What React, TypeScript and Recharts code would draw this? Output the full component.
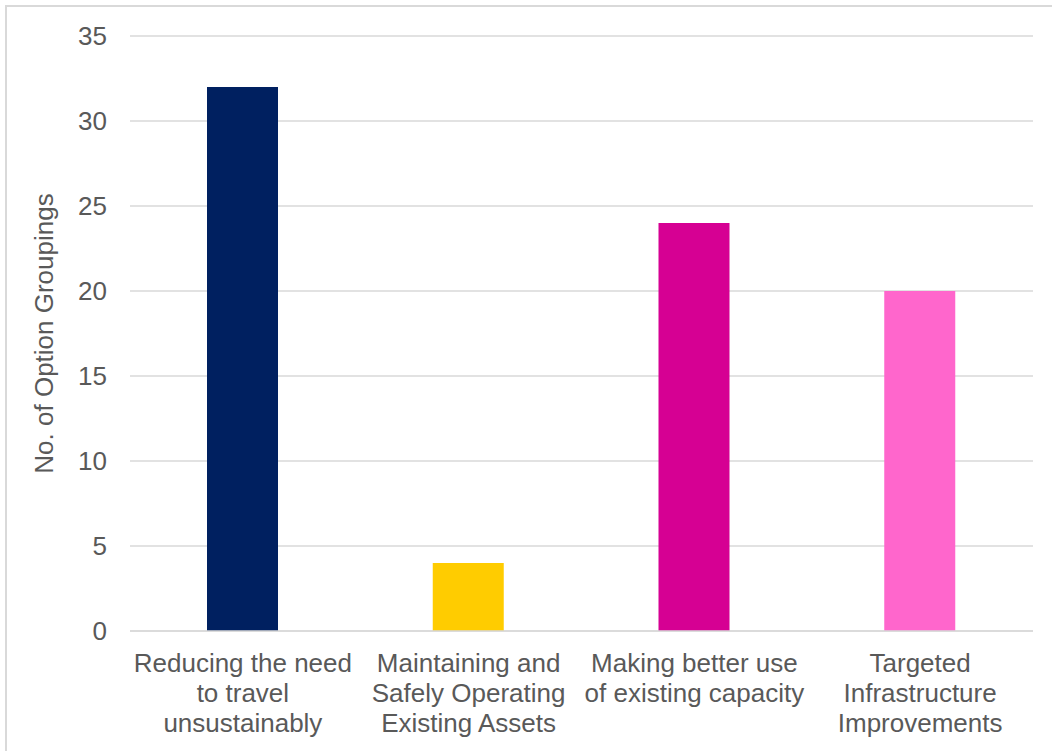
import React from 'react'
import { BarChart, Bar, XAxis, YAxis, CartesianGrid, Cell } from 'recharts'

const categories = [
  'Reducing the need\nto travel\nunsustainably',
  'Maintaining and\nSafely Operating\nExisting Assets',
  'Making better use\nof existing capacity',
  'Targeted\nInfrastructure\nImprovements',
]
const optionGroupings = [32, 4, 24, 20]
const barColors = ['#002060', '#FFCC00', '#D60093', '#FF66CC']
const yTicks = [0, 5, 10, 15, 20, 25, 30, 35]

const data = categories.map((name, i) => ({ name, value: optionGroupings[i] }))

const FONT = '"Liberation Sans", Arial, sans-serif'
const TEXT = '#595959'
const GRID = '#d9d9d9'

function CategoryTick(props: any) {
  const { x, y, payload } = props
  const lines = String(payload.value).split('\n')
  return (
    <g>
      {lines.map((line, i) => (
        <text
          key={i}
          x={x}
          y={y + 41 + i * 30}
          textAnchor="middle"
          fill={TEXT}
          fontSize={26}
          fontFamily={FONT}
        >
          {line}
        </text>
      ))}
    </g>
  )
}

export default function App() {
  return (
    <div
      style={{
        position: 'absolute',
        left: 0,
        top: 0,
        width: 1052,
        height: 751,
        overflow: 'hidden',
        background: '#fff',
      }}
    >
      <div
        style={{
          position: 'absolute',
          left: 5,
          top: 5,
          width: 1060,
          height: 760,
          border: `2px solid ${GRID}`,
        }}
      />
      <div style={{ position: 'absolute', left: 0, top: 0 }}>
        <BarChart
          width={1052}
          height={751}
          data={data}
          margin={{ top: 36, right: 19, bottom: 0, left: 0 }}
        >
          <CartesianGrid vertical={false} stroke={GRID} strokeWidth={1.4} />
          <XAxis
            dataKey="name"
            height={120}
            tickLine={false}
            tickSize={0}
            tickMargin={0}
            axisLine={{ stroke: GRID, strokeWidth: 1.4 }}
            tick={<CategoryTick />}
            interval={0}
          />
          <YAxis
            width={130}
            domain={[0, 35]}
            ticks={yTicks}
            axisLine={false}
            tickLine={false}
            tickSize={0}
            tickMargin={23}
            tick={{ fill: TEXT, fontSize: 26, fontFamily: FONT }}
            label={{
              value: 'No. of Option Groupings',
              angle: -90,
              position: 'center',
              dx: -21,
              fill: TEXT,
              fontSize: 26,
              fontFamily: FONT,
            }}
          />
          <Bar dataKey="value" barSize={71} isAnimationActive={false}>
            {data.map((_, i) => (
              <Cell key={i} fill={barColors[i]} />
            ))}
          </Bar>
        </BarChart>
      </div>
    </div>
  )
}
